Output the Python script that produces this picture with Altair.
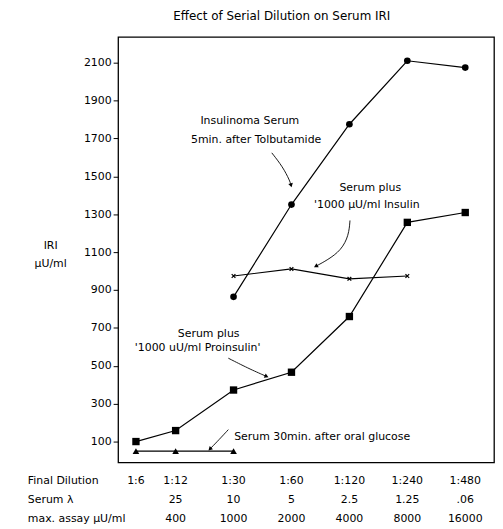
import altair as alt
import pandas as pd

# ---- data ----
dilutions = ["1:6", "1:12", "1:30", "1:60", "1:120", "1:240", "1:480"]
serum_lambda = ["", "25", "10", "5", "2.5", "1.25", ".06"]
max_assay = ["", "400", "1000", "2000", "4000", "8000", "16000"]

insulinoma = [None, None, 864, 1351, 1775, 2110, 2074]
insulin_added = [None, None, 974, 1011, 959, 974, None]
proinsulin_added = [100, 158, 372, 466, 760, 1257, 1309]
oral_glucose = [50, 50, 50, None, None, None, None]

y_ticks = [100, 300, 500, 700, 900, 1100, 1300, 1500, 1700, 1900, 2100]

# annotation texts (column position as fractional column index, IRI value)
ann_text = ["Insulinoma Serum", "5min. after Tolbutamide",
            "Serum plus", "'1000 \u00b5U/ml Insulin",
            "Serum plus", "'1000 uU/ml Proinsulin'"]
ann_col = [2.28, 2.39, 4.36, 4.30, 1.57, 1.38]
ann_val = [1791, 1692, 1440, 1346, 665, 592]

glucose_label = "Serum 30min. after oral  glucose"
glucose_col = [2.01]
glucose_val = [126]

arrow_id = [1, 1, 1, 1, 2, 2, 2, 2, 2, 3, 3, 3, 4, 4, 4]
arrow_col = [2.66, 2.85, 2.97, 2.99, 4.01, 3.99, 3.86, 3.62, 3.43, 1.91, 2.25, 2.56, 1.91, 1.75, 1.60]
arrow_val = [1624, 1550, 1477, 1456, 1267, 1189, 1110, 1058, 1027, 540, 487, 445, 163, 110, 63]
head_col = [2.99, 3.43, 2.56, 1.60]
head_val = [1456, 1027, 445, 63]
head_angle = [166, 241, 114, 225]

FONT = "DejaVu Sans"
W, H = 379, 429


def series_df(vals, name):
    rows = [{"col": i, "value": v, "series": name} for i, v in enumerate(vals) if v is not None]
    return pd.DataFrame(rows)


xenc = alt.X("col:Q", scale=alt.Scale(domain=[0, 1, 6], range=[18, 58, 350]), axis=None)
yscale = alt.Scale(domain=[-10, 2236], nice=False, zero=False)
yenc = alt.Y("value:Q", scale=yscale,
             axis=alt.Axis(values=y_ticks, title=None, grid=False, domain=False, format="d",
                           tickSize=5, tickColor="black", tickWidth=1,
                           labelFontSize=11, labelFont=FONT, labelColor="black",
                           labelPadding=2))


def line_layer(vals, name, shape, size, filled=True):
    df = series_df(vals, name)
    base = alt.Chart(df)
    ln = base.mark_line(color="black", strokeWidth=1.2).encode(x=xenc, y=yenc)
    pt = base.mark_point(shape=shape, size=size, filled=filled, color="black",
                         opacity=1, strokeWidth=1.2).encode(x=xenc, y=yenc)
    return ln + pt


l1 = line_layer(insulinoma, "Insulinoma", "circle", 45)
l2 = line_layer(insulin_added, "Insulin", "M-1,-1L1,1M-1,1L1,-1", 14, filled=False)
l3 = line_layer(proinsulin_added, "Proinsulin", "square", 55)
l4 = line_layer(oral_glucose, "Glucose", "triangle-up", 45)

ann_df = pd.DataFrame({"col": ann_col, "value": ann_val, "text": ann_text})
ann = alt.Chart(ann_df).mark_text(font=FONT, fontSize=11, color="black", align="center",
                                  baseline="middle").encode(x=xenc, y=yenc, text="text:N")

gl_df = pd.DataFrame({"col": glucose_col, "value": glucose_val, "text": [glucose_label]})
gl = alt.Chart(gl_df).mark_text(font=FONT, fontSize=11, color="black", align="left",
                                baseline="middle").encode(x=xenc, y=yenc, text="text:N")

arr_df = pd.DataFrame({"id": arrow_id, "col": arrow_col, "value": arrow_val,
                       "ord": list(range(len(arrow_id)))})
arrows = alt.Chart(arr_df).mark_line(color="black", strokeWidth=0.9, interpolate="basis").encode(
    x=xenc, y=yenc, detail="id:N", order="ord:Q")

head_df = pd.DataFrame({"col": head_col, "value": head_val, "angle": head_angle})
heads = alt.Chart(head_df).mark_point(shape="triangle", size=22, filled=True, color="black",
                                      opacity=1).encode(
    x=xenc, y=yenc, angle=alt.Angle("angle:Q", scale=None))

# bottom table rows
rows = []
for i, t in enumerate(dilutions):
    rows.append({"col": i, "text": t, "row": 0})
for i, t in enumerate(serum_lambda):
    rows.append({"col": i, "text": t, "row": 1})
for i, t in enumerate(max_assay):
    rows.append({"col": i, "text": t, "row": 2})
tab_df = pd.DataFrame(rows)
row_y = [H + 19, H + 38, H + 57]
row_labels = ["Final Dilution", "Serum  \u03bb", "max. assay \u00b5U/ml"]

tab_layers = []
for r in range(3):
    tab_layers.append(
        alt.Chart(tab_df[tab_df["row"] == r]).mark_text(
            font=FONT, fontSize=11, color="black", align="center", baseline="middle"
        ).encode(x=xenc, y=alt.value(row_y[r]), text="text:N"))
    tab_layers.append(
        alt.Chart(pd.DataFrame({"text": [row_labels[r]]})).mark_text(
            font=FONT, fontSize=11, color="black", align="left", baseline="middle"
        ).encode(x=alt.value(-91), y=alt.value(row_y[r]), text="text:N"))

ytitle_layers = []
for txt, yy in [("IRI", 211), ("\u00b5U/ml", 229)]:
    ytitle_layers.append(
        alt.Chart(pd.DataFrame({"text": [txt]})).mark_text(
            font=FONT, fontSize=11, color="black", align="center", baseline="middle"
        ).encode(x=alt.value(-68), y=alt.value(yy), text="text:N"))

title = alt.Chart(pd.DataFrame({"text": ["Effect of Serial Dilution on Serum IRI"]})).mark_text(
    font=FONT, fontSize=12, color="black", align="center", baseline="middle"
).encode(x=alt.value(165), y=alt.value(-21), text="text:N")

chart = alt.layer(l1, l2, l3, l4, arrows, heads, ann, gl, title,
                  *ytitle_layers, *tab_layers).properties(
    width=W, height=H,
    autosize=alt.AutoSizeParams(type="none"),
    padding={"left": 111, "top": 27, "right": 1, "bottom": 63},
    background="white",
).configure_view(stroke="black", strokeWidth=1.3)

chart.save("out.html", embed_options={"renderer": "svg", "actions": False})
